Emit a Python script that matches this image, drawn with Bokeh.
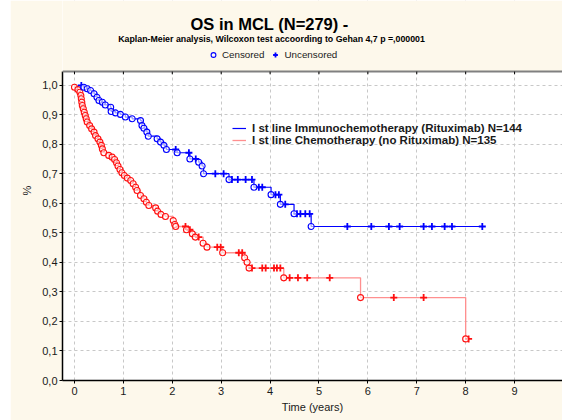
import numpy as np
from bokeh.plotting import figure
from bokeh.models import (Range1d, FixedTicker, CustomJSTickFormatter, Legend, LegendItem,
                          Label, BoxAnnotation, Span)
from bokeh.embed import file_html
from bokeh.resources import INLINE

# ---- data (time in years, survival fraction) ----
ritux_start_t = 0.12
ritux_event_t = [0.19, 0.26, 0.33, 0.40, 0.46, 0.50, 0.57, 0.63, 0.74, 0.75, 0.84, 0.94,
                 1.04, 1.18, 1.35, 1.38, 1.42, 1.48, 1.51, 1.69, 1.76, 1.83, 1.88, 2.10,
                 2.36, 2.54, 2.61, 2.64, 3.16, 3.67, 4.02, 4.21, 4.49, 4.84]
ritux_event_s = [0.994, 0.989, 0.983, 0.972, 0.960, 0.949, 0.943, 0.934, 0.926, 0.912, 0.907, 0.902,
                 0.893, 0.887, 0.881, 0.864, 0.855, 0.842, 0.828, 0.819, 0.808, 0.797, 0.783, 0.772,
                 0.751, 0.740, 0.727, 0.701, 0.681, 0.655, 0.630, 0.597, 0.565, 0.522]
ritux_cens_t = [0.14, 2.07, 2.34, 2.48, 2.88, 3.05, 3.22, 3.34, 3.50, 3.63, 3.77, 3.84,
                4.11, 4.18, 4.31, 4.55, 4.62, 4.72, 4.81, 5.58, 6.07, 6.43, 6.65, 7.14,
                7.31, 7.57, 7.72, 8.34]

chemo_start_t = 0.0
chemo_event_t = [0.00, 0.07, 0.11, 0.13, 0.14, 0.15, 0.16, 0.18, 0.20, 0.22, 0.24, 0.26,
                 0.31, 0.35, 0.40, 0.43, 0.48, 0.52, 0.55, 0.57, 0.60, 0.70, 0.77, 0.82,
                 0.86, 0.89, 0.93, 0.97, 1.02, 1.08, 1.15, 1.20, 1.25, 1.28, 1.35, 1.42,
                 1.47, 1.52, 1.66, 1.70, 1.77, 1.86, 2.02, 2.05, 2.07, 2.29, 2.41, 2.47,
                 2.63, 2.71, 3.03, 3.48, 3.53, 3.57, 4.28, 5.85, 8.00]
chemo_event_s = [0.994, 0.986, 0.977, 0.966, 0.955, 0.943, 0.932, 0.921, 0.909, 0.898, 0.887, 0.876,
                 0.864, 0.853, 0.842, 0.830, 0.819, 0.808, 0.797, 0.785, 0.772, 0.763, 0.757, 0.749,
                 0.738, 0.727, 0.715, 0.704, 0.695, 0.686, 0.678, 0.667, 0.655, 0.644, 0.627, 0.616,
                 0.604, 0.593, 0.585, 0.574, 0.563, 0.556, 0.542, 0.529, 0.522, 0.511, 0.497, 0.486,
                 0.465, 0.452, 0.433, 0.416, 0.401, 0.381, 0.348, 0.281, 0.141]
chemo_cens_t = [2.27, 2.36, 2.54, 2.92, 2.99, 3.36, 3.43, 3.63, 3.84, 3.91, 4.08, 4.14,
                4.21, 4.40, 4.57, 4.76, 5.22, 6.53, 7.14, 8.06]

x_ticks = [0, 1, 2, 3, 4, 5, 6, 7, 8, 9]
y_ticks = [0.0, 0.1, 0.2, 0.3, 0.4, 0.5, 0.6, 0.7, 0.8, 0.9, 1.0]

title_text = "OS in MCL (N=279) -"
subtitle_text = "Kaplan-Meier analysis, Wilcoxon test accoording to Gehan 4,7 p =,000001"
ritux_label = "I st line Immunochemotherapy (Rituximab) N=144"
chemo_label = "I st line Chemotherapy (no Rituximab) N=135"

FONT = "Liberation Sans"
BLUE = "#0000FF"
RED = "#FF1010"
RED_LINE = "#FF8F8F"
CREAM = "#FDF8EB"

Y_TOP = 1.047      # top of the plotting box
Y_END = 1.288      # canvas top (title area drawn inside the frame)


def step_path(start_t, ev_t, ev_s, cens_t):
    end_t = max(max(ev_t), max(cens_t))
    xs = [start_t] + list(ev_t) + [end_t]
    ys = [1.0] + list(ev_s) + [ev_s[-1]]
    return xs, ys


def cens_values(ev_t, ev_s, cens_t):
    ev_t = np.asarray(ev_t)
    idx = np.searchsorted(ev_t, np.asarray(cens_t), side="right") - 1
    return [1.0 if i < 0 else ev_s[i] for i in idx]


p = figure(width=552, height=420, margin=(0, 0, 0, 10), output_backend="svg", toolbar_location=None,
           x_range=Range1d(-0.245, 9.98), y_range=Range1d(0, Y_END),
           min_border_left=52, min_border_right=0, min_border_top=0, min_border_bottom=40,
           background_fill_color="white", border_fill_color=CREAM, outline_line_color=None)

# grid
p.xgrid.ticker = FixedTicker(ticks=x_ticks)
p.ygrid.ticker = FixedTicker(ticks=y_ticks)
for g in (p.xgrid, p.ygrid):
    g.grid_line_color = "#C8C8C8"
    g.grid_line_dash = "3 3"
    g.grid_line_width = 1

# axes
p.xaxis.ticker = FixedTicker(ticks=x_ticks)
p.yaxis.ticker = FixedTicker(ticks=y_ticks)
p.yaxis.bounds = (0, Y_TOP)
p.yaxis.formatter = CustomJSTickFormatter(code="return tick.toFixed(1).replace('.', ',');")
for ax in (p.xaxis, p.yaxis):
    ax.axis_line_color = "black"
    ax.axis_line_width = 1.5
    ax.major_tick_in = 0
    ax.major_tick_out = 3
    ax.major_tick_line_color = "black"
    ax.minor_tick_line_color = None
    ax.major_label_text_font = FONT
    ax.major_label_text_font_size = "11px"
    ax.major_label_text_color = "#1a1a1a"
    ax.axis_label_text_font = FONT
    ax.axis_label_text_font_size = "11px"
    ax.axis_label_text_font_style = "normal"
    ax.axis_label_text_color = "#1a1a1a"
p.xaxis.axis_label = "Time (years)"
p.xaxis.major_label_standoff = 3
p.xaxis.axis_label_standoff = 3
p.yaxis.axis_label = "%"
p.yaxis.major_label_standoff = 2
p.yaxis.axis_label_standoff = 6

# curves
rx, ry = step_path(ritux_start_t, ritux_event_t, ritux_event_s, ritux_cens_t)
cx, cy = step_path(chemo_start_t, chemo_event_t, chemo_event_s, chemo_cens_t)

chemo_line = p.step(cx, cy, mode="after", line_color=RED_LINE, line_width=1.3)
ritux_line = p.step(rx, ry, mode="after", line_color=BLUE, line_width=1.2)

p.scatter(chemo_cens_t, cens_values(chemo_event_t, chemo_event_s, chemo_cens_t),
          marker="cross", size=7, line_color=RED, line_width=1.8)
p.scatter(chemo_event_t, chemo_event_s, marker="circle", size=6, line_color=RED,
          line_width=1.1, fill_color="white", fill_alpha=0.6)
ritux_cross = p.scatter(ritux_cens_t, cens_values(ritux_event_t, ritux_event_s, ritux_cens_t),
                        marker="cross", size=7, line_color=BLUE, line_width=1.8)
ritux_circ = p.scatter(ritux_event_t, ritux_event_s, marker="circle", size=6, line_color=BLUE,
                       line_width=1.1, fill_color="white", fill_alpha=0.6)

# title area above the plotting box (cream), top border line and top ticks
p.add_layout(BoxAnnotation(bottom=Y_TOP, fill_color=CREAM, fill_alpha=1.0, line_alpha=0))
p.segment(x0=x_ticks, y0=[Y_TOP] * len(x_ticks), x1=x_ticks, y1=[Y_TOP - 0.009] * len(x_ticks),
          line_color="black", line_width=1, level="overlay")
p.add_layout(Span(location=Y_TOP, dimension="width", line_color="#808080", line_width=2))

# inner legend
inner = Legend(items=[LegendItem(label=ritux_label, renderers=[ritux_line]),
                      LegendItem(label=chemo_label, renderers=[chemo_line])],
               location=(170, 234), glyph_width=14, glyph_height=12, label_height=12,
               label_standoff=6, spacing=0, padding=0, margin=0,
               label_text_font=FONT, label_text_font_size="11.5px", label_text_font_style="bold",
               label_text_color="#1a1a1a",
               background_fill_alpha=0, border_line_alpha=0)
p.add_layout(inner)

# censored / uncensored key
key = Legend(items=[LegendItem(label="Censored", renderers=[ritux_circ]),
                    LegendItem(label="Uncensored", renderers=[ritux_cross])],
             orientation="horizontal", location=(145, 319), glyph_width=12, glyph_height=13,
             label_height=12, label_standoff=3, spacing=5, padding=0, margin=0,
             label_text_font=FONT, label_text_font_size="9.8px", label_text_color="#1a1a1a",
             background_fill_alpha=0, border_line_alpha=0)
p.add_layout(key)

# titles
p.add_layout(Label(x=3.99, y=1.207, text=title_text, text_align="center", text_baseline="middle",
                   text_font=FONT, text_font_size="16.5px", text_font_style="bold", text_color="black"))
p.add_layout(Label(x=4.03, y=1.159, text=subtitle_text, text_align="center", text_baseline="middle",
                   text_font=FONT, text_font_size="8.8px", text_font_style="bold", text_color="black"))

open("out.html", "w").write(file_html(p, INLINE))
